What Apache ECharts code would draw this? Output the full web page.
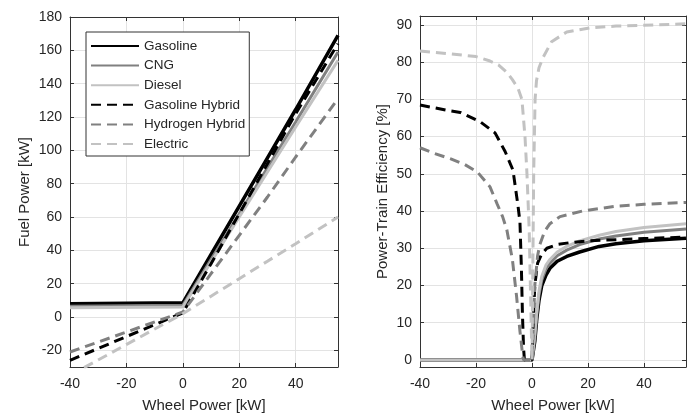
<!DOCTYPE html>
<html>
<head>
<meta charset="utf-8">
<script src="https://cdn.jsdelivr.net/npm/echarts@6/dist/echarts.min.js"></script>
<style>
  html, body { margin: 0; padding: 0; background: #fff; }
  #chart { width: 696px; height: 418px; }
</style>
</head>
<body>
<div id="chart"></div>
<script>
// series names (legend order)
const seriesNames = ['Gasoline', 'CNG', 'Diesel', 'Gasoline Hybrid', 'Hydrogen Hybrid', 'Electric']

// left panel: fuel power [kW] vs wheel power [kW]
const fuelWheel = [-40, 0, 10, 20, 30, 40, 55]
const fuelGasoline = [8, 8.5, 37.5, 66.5, 95.5, 124.5, 169]
const fuelCNG = [6.5, 7, 34.5, 62, 89.5, 117, 159]
const fuelDiesel = [5.5, 6, 33, 60, 87, 114, 154]
const fuelGasHybrid = [-26, 2.5, 32, 62, 92, 122, 164]
const fuelH2Hybrid = [-21, 3, 26, 49, 72, 96, 131]
const fuelElectric = [-35, 2, 12.5, 23, 33.5, 44, 60]

// right panel: power-train efficiency [%] vs wheel power [kW]
const effWheelICE = [-40, 0, 1, 1.7, 2.5, 3.5, 5, 6.4, 9, 12.4, 17, 24, 30, 40, 55]
const effGasoline = [0, 0, 5, 11, 16, 20, 22.8, 24.6, 26.5, 27.8, 29, 30.5, 31.2, 32, 32.7]
const effCNG = [0, 0, 6, 12, 17.5, 21.5, 24.5, 26, 28, 29.5, 31, 32.5, 33.3, 34.3, 35.2]
const effDiesel = [0, 0, 7, 13, 18.5, 22.5, 25.5, 27, 29, 30.5, 32, 33.5, 34.5, 35.6, 36.6]

const effWheelGasHybrid = [-40, -30, -25.6, -18.5, -13.2, -9.6, -6.8, -5, -4.3, -3.8, -3.4, -3, -2.7, 0, 0.5, 1, 2, 3.5, 5.3, 9, 13.5, 20, 30, 40, 55]
const effGasHybrid = [68.5, 67, 66.5, 64, 61, 56, 51, 41.4, 37, 25, 12, 3, 0, 0, 12, 20, 26, 28.5, 30, 31, 31.5, 32, 32.3, 32.6, 33]

const effWheelH2Hybrid = [-40, -35, -29, -24, -19.5, -15, -12.5, -10.5, -9, -7, -5.5, -4.3, -3.3, -3, 0, 0.5, 1, 2, 2.8, 4.5, 6.4, 10, 18, 30, 40, 55]
const effH2Hybrid = [57, 55.5, 54, 52.5, 50.5, 46.5, 42, 38.5, 35, 27, 17, 7.7, 1, 0, 0, 10, 20, 28, 31, 34.5, 36.6, 38.5, 40, 41.3, 41.8, 42.3]

const effWheelElectric = [-40, -30, -20, -15, -12, -9, -7, -5, -3.6, -2.5, -1.8, -1, -0.3, 0, 0.3, 0.6, 1.1, 1.6, 2.5, 3.9, 7, 12.4, 20.6, 30, 43.7, 55]
const effElectric = [83, 82.3, 81.5, 80.3, 79.3, 77.3, 75.3, 73, 70, 60, 50, 35, 10, 0, 25, 50, 70, 75, 78.5, 81.2, 85.5, 88.1, 89.2, 89.7, 90, 90.3]

const font = "'Liberation Sans', Arial, sans-serif"
const textColor = '#262626'
const styles = [
  { color: '#000000', type: 'solid', width: 3.5 },
  { color: '#808080', type: 'solid', width: 3 },
  { color: '#c2c2c2', type: 'solid', width: 3 },
  { color: '#000000', type: [10, 6], width: 3 },
  { color: '#808080', type: [10, 6], width: 3 },
  { color: '#c2c2c2', type: [10, 6], width: 3 }
]

function pairs (xs, ys) {
  return xs.map((x, i) => [x, ys[i]])
}

function mainX (gridIndex) {
  return {
    type: 'value',
    gridIndex: gridIndex,
    min: -40,
    max: 55,
    interval: 20,
    name: 'Wheel Power [kW]',
    nameLocation: 'middle',
    nameGap: 31,
    nameTextStyle: { fontFamily: font, fontSize: 15, color: textColor },
    axisLine: { show: true, onZero: false, lineStyle: { color: '#333', width: 1 } },
    axisTick: { show: true, inside: true, length: 4, lineStyle: { color: '#333' } },
    axisLabel: {
      fontFamily: font, fontSize: 14, color: textColor, margin: 10,
      formatter: v => (v % 20 === 0 ? String(v) : '')
    },
    splitLine: { show: true, lineStyle: { color: '#e3e3e3', width: 1 } }
  }
}

function mainY (gridIndex, min, max, step, name, gap) {
  return {
    type: 'value',
    gridIndex: gridIndex,
    min: min,
    max: max,
    minInterval: step,
    maxInterval: step,
    name: name,
    nameLocation: 'middle',
    nameGap: gap,
    nameTextStyle: { fontFamily: font, fontSize: 15, color: textColor },
    axisLine: { show: true, onZero: false, lineStyle: { color: '#333', width: 1 } },
    axisTick: { show: true, inside: true, length: 4, lineStyle: { color: '#333' } },
    axisLabel: {
      fontFamily: font, fontSize: 14, color: textColor, margin: 8,
      formatter: v => (Math.abs(v % step) < 1e-9 ? String(v) : '')
    },
    splitLine: { show: true, lineStyle: { color: '#e3e3e3', width: 1 } }
  }
}

// box axes (top / right) with inward ticks only
function boxAxis (gridIndex, pos, min, max, step) {
  return {
    type: 'value',
    gridIndex: gridIndex,
    position: pos,
    min: min,
    max: max,
    minInterval: step,
    maxInterval: step,
    axisLine: { show: true, onZero: false, lineStyle: { color: '#333', width: 1 } },
    axisTick: { show: true, inside: true, length: 4, lineStyle: { color: '#333' } },
    axisLabel: { show: false },
    splitLine: { show: false }
  }
}

function line (name, idx, axisIndex, data) {
  return {
    name: name,
    type: 'line',
    xAxisIndex: axisIndex,
    yAxisIndex: axisIndex,
    data: data,
    symbol: 'none',
    smooth: false,
    clip: true,
    lineStyle: { color: styles[idx].color, type: styles[idx].type, width: styles[idx].width },
    itemStyle: { color: styles[idx].color },
    emphasis: { disabled: true }
  }
}

const chart = echarts.init(document.getElementById('chart'))
const option = {
  animation: false,
  backgroundColor: '#ffffff',
  textStyle: { fontFamily: font },
  grid: [
    { left: 70, top: 17, width: 268, height: 352 },
    { left: 420, top: 16, width: 266, height: 353 }
  ],
  legend: {
    data: seriesNames,
    orient: 'vertical',
    left: 86,
    top: 32,
    padding: [7, 4, 5, 4],
    itemWidth: 48,
    itemHeight: 14,
    itemGap: 5.6,
    itemTextGap: 5,
    selectedMode: false,
    itemStyle: { opacity: 0 },
    backgroundColor: '#ffffff',
    borderColor: '#333',
    borderWidth: 1,
    borderRadius: 0,
    textStyle: { fontFamily: font, fontSize: 13.5, color: textColor }
  },
  xAxis: [
    mainX(0),
    Object.assign(boxAxis(0, 'top', -40, 55, 20), { interval: 20, minInterval: null, maxInterval: null }),
    mainX(1),
    Object.assign(boxAxis(1, 'top', -40, 55, 20), { interval: 20, minInterval: null, maxInterval: null })
  ],
  yAxis: [
    mainY(0, -30, 180, 20, 'Fuel Power [kW]', 38),
    boxAxis(0, 'right', -30, 180, 20),
    mainY(1, -1.9, 92.4, 10, 'Power-Train Efficiency [%]', 30),
    boxAxis(1, 'right', -1.9, 92.4, 10)
  ],
  series: [
    line(seriesNames[0], 0, 0, pairs(fuelWheel, fuelGasoline)),
    line(seriesNames[1], 1, 0, pairs(fuelWheel, fuelCNG)),
    line(seriesNames[2], 2, 0, pairs(fuelWheel, fuelDiesel)),
    line(seriesNames[3], 3, 0, pairs(fuelWheel, fuelGasHybrid)),
    line(seriesNames[4], 4, 0, pairs(fuelWheel, fuelH2Hybrid)),
    line(seriesNames[5], 5, 0, pairs(fuelWheel, fuelElectric)),
    line(seriesNames[0], 0, 2, pairs(effWheelICE, effGasoline)),
    line(seriesNames[1], 1, 2, pairs(effWheelICE, effCNG)),
    line(seriesNames[2], 2, 2, pairs(effWheelICE, effDiesel)),
    line(seriesNames[3], 3, 2, pairs(effWheelGasHybrid, effGasHybrid)),
    line(seriesNames[4], 4, 2, pairs(effWheelH2Hybrid, effH2Hybrid)),
    line(seriesNames[5], 5, 2, pairs(effWheelElectric, effElectric))
  ]
}
chart.setOption(option)
</script>
</body>
</html>
